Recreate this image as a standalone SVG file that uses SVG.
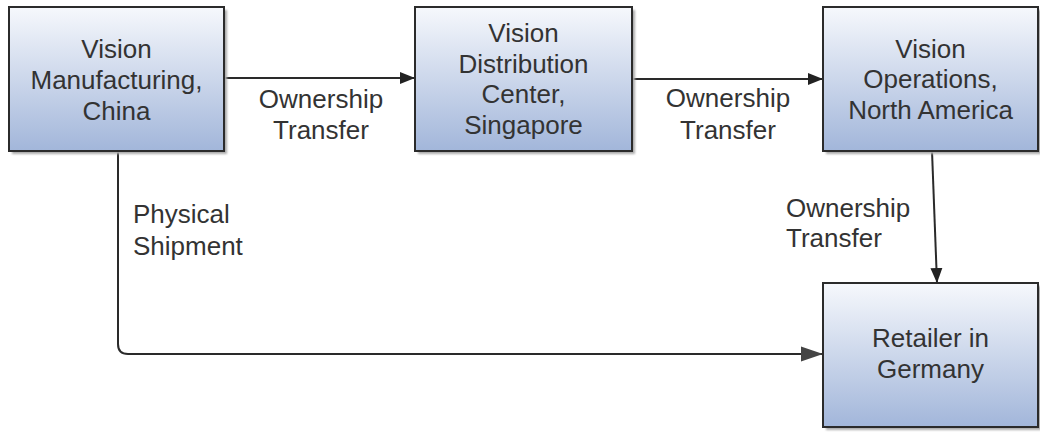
<svg xmlns="http://www.w3.org/2000/svg" width="1040" height="432" viewBox="0 0 1040 432">
<defs>
<linearGradient id="g" x1="0" y1="0" x2="0" y2="1">
<stop offset="0" stop-color="#f6f8fc"/>
<stop offset="1" stop-color="#a2b6da"/>
</linearGradient>
<filter id="sh" x="-10%" y="-10%" width="130%" height="130%">
<feGaussianBlur stdDeviation="1.2"/>
</filter>
<marker id="ah" markerUnits="userSpaceOnUse" markerWidth="16" markerHeight="14" refX="15" refY="7" orient="auto">
<path d="M0,1 L15,7 L0,13 Z" fill="#222"/>
</marker>
<marker id="ah2" markerUnits="userSpaceOnUse" markerWidth="24" markerHeight="18" refX="22" refY="9" orient="auto">
<path d="M0,1.5 L22,9 L0,16.5 Z" fill="#444"/>
</marker>
</defs>
<style>
.box{fill:url(#g);stroke:#2b2b2b;stroke-width:2}
.shadow{fill:#aaaaaa;filter:url(#sh)}
.t{font-family:"Liberation Sans",Arial,sans-serif;font-size:26px;fill:#333;text-anchor:middle}
.l{font-family:"Liberation Sans",Arial,sans-serif;font-size:26px;fill:#333}
.c{stroke:#2a2a2a;stroke-width:2;fill:none}
</style>
<rect width="1040" height="432" fill="#fff"/>
<g id="connectors">
<line class="c" x1="224" y1="78" x2="415" y2="78" marker-end="url(#ah)"/>
<line class="c" x1="632" y1="79" x2="823" y2="79" marker-end="url(#ah)"/>
<line class="c" x1="932" y1="151" x2="937" y2="283" marker-end="url(#ah)"/>
<path class="c" d="M118,151 V344 Q118,354 128,354 H823" stroke="#474747" marker-end="url(#ah2)"/>
</g>
<g id="labels">
<text class="t" x="321" y="108">Ownership</text>
<text class="t" x="321" y="139">Transfer</text>
<text class="t" x="728" y="107">Ownership</text>
<text class="t" x="728" y="139">Transfer</text>
<text class="l" x="786" y="217">Ownership</text>
<text class="l" x="786" y="247">Transfer</text>
<text class="l" x="133" y="223">Physical</text>
<text class="l" x="133" y="255">Shipment</text>
</g>
<g id="n1">
<rect class="shadow" x="12" y="10" width="215" height="144"/>
<rect class="box" x="9" y="7" width="215" height="144"/>
<text class="t" x="116.5" y="57.5">Vision</text>
<text class="t" x="116.5" y="89">Manufacturing,</text>
<text class="t" x="116.5" y="120">China</text>
</g>
<g id="n2">
<rect class="shadow" x="418" y="10" width="217" height="144"/>
<rect class="box" x="415" y="7" width="217" height="144"/>
<text class="t" x="523.5" y="42">Vision</text>
<text class="t" x="523.5" y="72.5">Distribution</text>
<text class="t" x="523.5" y="103">Center,</text>
<text class="t" x="523.5" y="134">Singapore</text>
</g>
<g id="n3">
<rect class="shadow" x="826" y="10" width="215" height="144"/>
<rect class="box" x="823" y="7" width="215" height="144"/>
<text class="t" x="930.5" y="57.5">Vision</text>
<text class="t" x="930.5" y="88">Operations,</text>
<text class="t" x="930.5" y="118.5">North America</text>
</g>
<g id="n4">
<rect class="shadow" x="826" y="286" width="215" height="144"/>
<rect class="box" x="823" y="283" width="215" height="144"/>
<text class="t" x="930.5" y="347">Retailer in</text>
<text class="t" x="930.5" y="378">Germany</text>
</g>
</svg>
